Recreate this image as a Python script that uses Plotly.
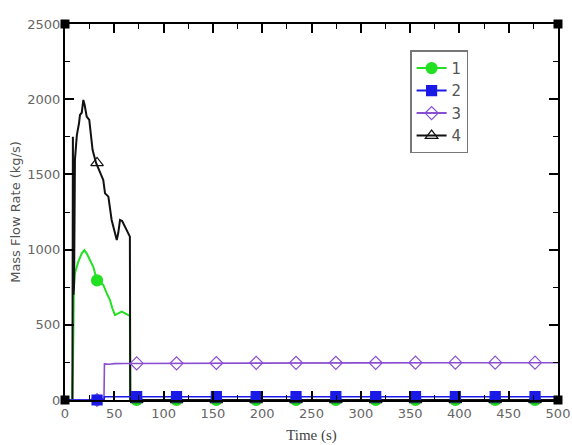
import plotly.graph_objects as go

# ---- data ----
marker_t = [32.5, 72.7, 113.1, 153.5, 193.9, 234.3, 274.7, 315.1, 355.5, 395.9, 436.3, 476.7]

s1_t = [0, 7.5, 8.2, 9, 10.1, 13.5, 17, 19.6, 22, 25.4, 28.7, 32.5, 38.8, 42.3, 45.6, 48, 50.7, 54, 57.5, 61, 64.2, 65.8, 66.2, 500]
s1_y = [0, 0, 290, 750, 843, 920, 975, 997, 975, 931, 886, 795, 765, 711, 665, 610, 565, 576, 587, 576, 565, 560, 0, 0]
s1_my = [795, 0, 0, 0, 0, 0, 0, 0, 0, 0, 0, 0]

s2_t = [0, 39.5, 40, 500]
s2_y = [0, 0, 22, 22]
s2_my = [0, 22, 22, 22, 22, 22, 22, 22, 22, 22, 22, 22]

s3_t = [0, 39.5, 40, 45, 50, 55, 60, 70, 100, 150, 200, 300, 400, 500]
s3_y = [0, 0, 240, 238, 242, 240, 243, 243, 244, 246, 247, 247, 248, 248]
s3_my = [0, 243, 244, 246, 247, 247, 247, 247, 248, 248, 248, 248]

s4_t = [0, 7.5, 8.0, 8.6, 9.2, 10.1, 12, 14.2, 15.2, 17, 18.6, 20, 22, 24.6, 27, 28, 31.5, 35.5, 38.8, 40.6, 44, 47.3, 50.7, 52.5, 54, 55.8, 58, 60.8, 63, 65.8, 66.2, 500]
s4_y = [0, 0, 1750, 700, 760, 1600, 1760, 1840, 1895, 1910, 1995, 1960, 1884, 1862, 1684, 1662, 1576, 1507, 1463, 1374, 1352, 1197, 1110, 1064, 1110, 1197, 1190, 1152, 1130, 1086, 0, 0]
s4_my = [1576, 0, 0, 0, 0, 0, 0, 0, 0, 0, 0, 0]

corner_x = [0, 0, 500, 500]
corner_y = [0, 2500, 2500, 0]

names = ["1", "2", "3", "4"]
colors = ["#22e022", "#1a1ae6", "#8a4fd0", "#111111"]
symbols = ["circle", "square", "diamond-open", "triangle-up-open"]
msizes = [11, 10, 10, 11]

series = {
    "1": (s1_t, s1_y, s1_my),
    "2": (s2_t, s2_y, s2_my),
    "3": (s3_t, s3_y, s3_my),
    "4": (s4_t, s4_y, s4_my),
}

fig = go.Figure()
order = ["1", "4", "3", "2"]
for nm in order:
    i = names.index(nm)
    t, y, my = series[nm]
    fig.add_trace(go.Scatter(x=t, y=y, mode="lines", line=dict(color=colors[i], width=2 if nm in ("1", "4") else 1.6),
                             showlegend=False, cliponaxis=False, hoverinfo="skip"))
    fig.add_trace(go.Scatter(x=marker_t, y=my, mode="markers",
                             marker=dict(symbol=symbols[i], size=msizes[i], color=colors[i],
                                         line=dict(color=colors[i], width=1.2)),
                             showlegend=False, cliponaxis=False))

for i, nm in enumerate(names):
    fig.add_trace(go.Scatter(x=[None], y=[None], mode="lines+markers", name=nm,
                             line=dict(color=colors[i], width=2),
                             marker=dict(symbol=symbols[i], size=msizes[i], color=colors[i],
                                         line=dict(color=colors[i], width=1.2))))

fig.add_trace(go.Scatter(x=corner_x, y=corner_y, mode="markers", showlegend=False, cliponaxis=False,
                         marker=dict(symbol="square", size=9, color="black")))

axis_common = dict(showgrid=False, zeroline=False, showline=True, linecolor="black", linewidth=2,
                   mirror="ticks", ticks="inside", tickcolor="black", tickwidth=1.5, ticklen=9,
                   automargin=False,
                   tickfont=dict(family="DejaVu Sans", size=13, color="#666666"))

fig.update_xaxes(range=[0, 500], dtick=50, tick0=0,
                 minor=dict(dtick=25, ticks="inside", ticklen=5, tickcolor="black", tickwidth=1.2),
                 title=dict(text="Time (s)", font=dict(family="Liberation Serif", size=15, color="#444444"), standoff=10),
                 **axis_common)
fig.update_yaxes(range=[0, 2500], dtick=500, tick0=0,
                 minor=dict(dtick=250, ticks="inside", ticklen=5, tickcolor="black", tickwidth=1.2),
                 title=dict(text="Mass Flow Rate (kg/s)", font=dict(family="DejaVu Sans", size=13, color="#555555"), standoff=4),
                 **axis_common)

fig.update_layout(
    width=572, height=445,
    margin=dict(l=65, r=14, t=24, b=45),
    plot_bgcolor="white", paper_bgcolor="white",
    legend=dict(x=0.70, y=0.93, xanchor="left", yanchor="top", bordercolor="#777777", borderwidth=1.5,
                bgcolor="white", font=dict(family="DejaVu Sans", size=15, color="#555555"),
                itemwidth=30),
)

fig.write_html("out.html", config={"displayModeBar": False},
               post_script="document.body.style.margin='0px';")
